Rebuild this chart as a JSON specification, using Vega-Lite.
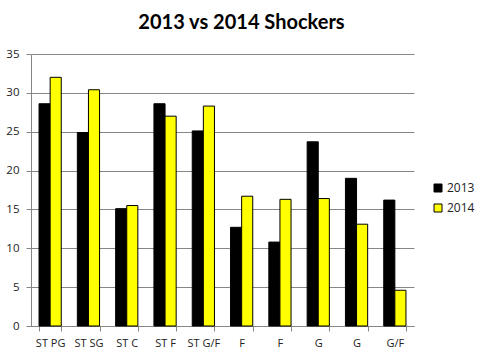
{
  "$schema": "https://vega.github.io/schema/vega-lite/v6.json",
  "width": 383,
  "height": 272,
  "autosize": {"type": "none"},
  "padding": {"left": 31, "top": 54, "right": 71, "bottom": 30},
  "background": "white",
  "title": {
    "text": "2013 vs 2014 Shockers",
    "font": "Lato",
    "fontSize": 20,
    "fontWeight": "bold",
    "color": "black",
    "anchor": "middle",
    "dx": 19,
    "offset": 15
  },
  "data": {
    "values": [
      {"slot": 1, "position": "ST PG", "year": "2013", "value": 28.6},
      {"slot": 1, "position": "ST PG", "year": "2014", "value": 32.0},
      {"slot": 2, "position": "ST SG", "year": "2013", "value": 24.9},
      {"slot": 2, "position": "ST SG", "year": "2014", "value": 30.4},
      {"slot": 3, "position": "ST C", "year": "2013", "value": 15.1},
      {"slot": 3, "position": "ST C", "year": "2014", "value": 15.5},
      {"slot": 4, "position": "ST F", "year": "2013", "value": 28.6},
      {"slot": 4, "position": "ST F", "year": "2014", "value": 27.0},
      {"slot": 5, "position": "ST G/F", "year": "2013", "value": 25.1},
      {"slot": 5, "position": "ST G/F", "year": "2014", "value": 28.3},
      {"slot": 6, "position": "F", "year": "2013", "value": 12.7},
      {"slot": 6, "position": "F", "year": "2014", "value": 16.7},
      {"slot": 7, "position": "F", "year": "2013", "value": 10.8},
      {"slot": 7, "position": "F", "year": "2014", "value": 16.3},
      {"slot": 8, "position": "G", "year": "2013", "value": 23.7},
      {"slot": 8, "position": "G", "year": "2014", "value": 16.4},
      {"slot": 9, "position": "G", "year": "2013", "value": 19.0},
      {"slot": 9, "position": "G", "year": "2014", "value": 13.1},
      {"slot": 10, "position": "G/F", "year": "2013", "value": 16.2},
      {"slot": 10, "position": "G/F", "year": "2014", "value": 4.6}
    ]
  },
  "mark": {"type": "bar", "stroke": "black", "strokeWidth": 1},
  "encoding": {
    "x": {
      "field": "slot",
      "type": "ordinal",
      "title": null,
      "scale": {"paddingInner": 0.42, "paddingOuter": 0.21},
      "axis": {
        "labelExpr": "['ST PG','ST SG','ST C','ST F','ST G/F','F','F','G','G','G/F'][datum.value-1]",
        "labelAngle": 0,
        "labelFont": "Open Sans",
        "labelFontSize": 11,
        "labelColor": "#222222",
        "labelPadding": 6,
        "tickBand": "extent",
        "tickSize": 5,
        "tickColor": "#868686",
        "domainColor": "#868686",
        "grid": false
      }
    },
    "xOffset": {"field": "year", "type": "nominal"},
    "y": {
      "field": "value",
      "type": "quantitative",
      "title": null,
      "scale": {"domain": [0, 35], "nice": false},
      "axis": {
        "values": [0, 5, 10, 15, 20, 25, 30, 35],
        "labelFont": "Open Sans",
        "labelFontSize": 11.5,
        "labelColor": "#222222",
        "labelPadding": 7,
        "tickSize": 5,
        "tickColor": "#868686",
        "domainColor": "#868686",
        "gridColor": "#868686",
        "gridWidth": 1
      }
    },
    "color": {
      "field": "year",
      "type": "nominal",
      "scale": {"domain": ["2013", "2014"], "range": ["#000000", "#FFFF00"]},
      "legend": {
        "title": null,
        "orient": "none",
        "legendX": 401,
        "legendY": 128,
        "symbolType": "square",
        "symbolSize": 64,
        "symbolStrokeColor": "black",
        "symbolStrokeWidth": 1,
        "labelFont": "Open Sans",
        "labelFontSize": 12,
        "labelColor": "#222222",
        "rowPadding": 8,
        "labelOffset": 3
      }
    }
  },
  "config": {"view": {"stroke": null}}
}
